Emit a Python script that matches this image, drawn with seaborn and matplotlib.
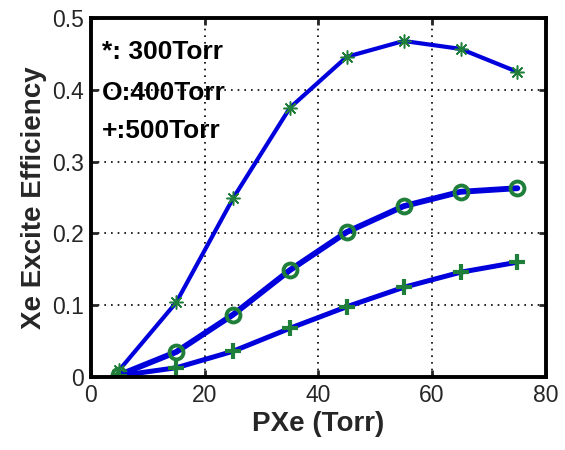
import matplotlib
matplotlib.use("Agg")
import matplotlib.pyplot as plt
import seaborn as sns
import pandas as pd

sns.set_style("white")
plt.rcParams['font.family'] = ['Liberation Sans', 'DejaVu Sans']

pxe = [5, 15, 25, 35, 45, 55, 65, 75]
eff_300 = [0.010, 0.104, 0.249, 0.375, 0.446, 0.468, 0.457, 0.425]
eff_400 = [0.003, 0.035, 0.087, 0.149, 0.202, 0.238, 0.258, 0.263]
eff_500 = [0.002, 0.013, 0.036, 0.068, 0.098, 0.125, 0.146, 0.160]
labels = ["*: 300Torr", "O:400Torr", "+:500Torr"]

fig = plt.figure(figsize=(5.65, 4.5), dpi=100)
ax = fig.add_axes([0.161, 0.162, 0.805, 0.798])

green = "#1f7f3a"
blue = "#0000dd"
sns.lineplot(x=pxe, y=eff_300, ax=ax, color=blue, linewidth=3,
             marker=(8, 2, 0), markersize=10, markeredgecolor=green,
             markeredgewidth=1.1, markerfacecolor=green)
sns.lineplot(x=pxe, y=eff_400, ax=ax, color=blue, linewidth=4.2,
             marker="o", markersize=10, markeredgecolor=green,
             markeredgewidth=2.8, markerfacecolor="none")
sns.lineplot(x=pxe, y=eff_500, ax=ax, color=blue, linewidth=3.6,
             marker="+", markersize=11, markeredgecolor=green,
             markeredgewidth=3)

ax.set_xlim(0, 80)
ax.set_ylim(0, 0.5)
ax.set_xticks([0, 20, 40, 60, 80])
ax.set_yticks([0, 0.1, 0.2, 0.3, 0.4, 0.5])
ax.set_yticklabels(["0", "0.1", "0.2", "0.3", "0.4", "0.5"])
ax.grid(True, linestyle=(0, (1, 3)), color="black", linewidth=1.2)
for s in ax.spines.values():
    s.set_linewidth(2.8)
    s.set_color("black")
ax.tick_params(direction="in", length=5, width=2, labelsize=16.5, pad=5,
               top=True, right=True, bottom=True, left=True)

ax.set_xlabel("PXe (Torr)", fontsize=20, fontweight="bold", labelpad=3)
ax.set_ylabel("Xe Excite Efficiency", fontsize=20, fontweight="bold", labelpad=4)

for lab, yy in zip(labels, [0.453, 0.396, 0.343]):
    ax.text(1.9, yy, lab, fontsize=19, fontweight="bold", va="center",
            ha="left", color="black")

fig.savefig("out.png", dpi=100)
